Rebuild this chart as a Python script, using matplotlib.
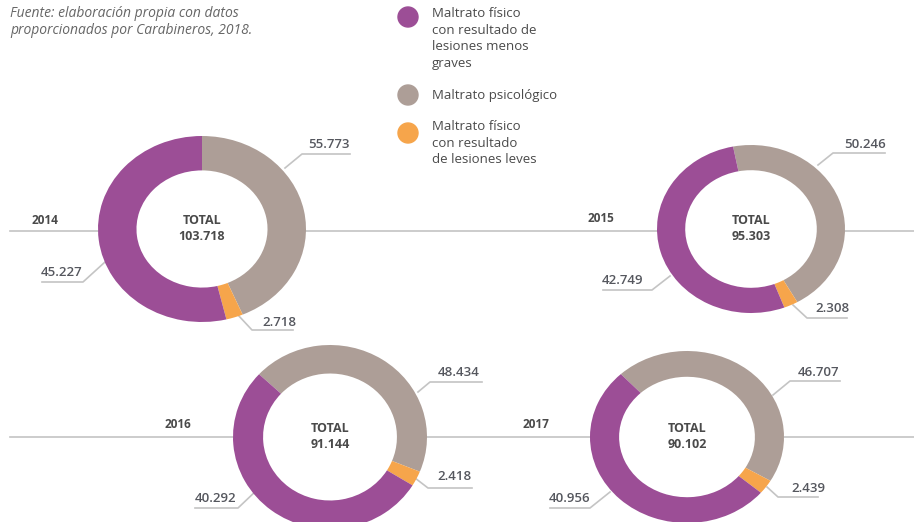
import matplotlib
matplotlib.use("Agg")
import matplotlib.pyplot as plt
from matplotlib.patches import Circle, Ellipse

plt.rcParams["font.family"] = ["Open Sans", "DejaVu Sans"]

# datos (Carabineros, 2018)
years = ["2014", "2015", "2016", "2017"]
fisico_graves = [45227, 42749, 40292, 40956]
psicologico = [55773, 50246, 48434, 46707]
fisico_leves = [2718, 2308, 2418, 2439]
totals = [103718, 95303, 91144, 90102]

legend_labels = [
    "Maltrato físico\ncon resultado de\nlesiones menos\ngraves",
    "Maltrato psicológico",
    "Maltrato físico\ncon resultado\nde lesiones leves",
]

PURPLE = "#9c4e96"
GRAY = "#ad9e97"
ORANGE = "#f6a54b"
TXT = "#4a4a4a"
NUM = "#55575e"
LINE = "#c4c4c4"

W, H = 914, 522

# layout in pixels: center x, center y, radius x, radius y, ring width, start angle
donuts = [
    (202, 229, 104, 93, 0.37, 90),
    (751, 229, 94, 84, 0.30, 101),
    (330, 437, 97, 92, 0.31, 137),
    (687, 437, 97, 86, 0.30, 133),
]

# label anchors: (ring point, elbow, underline end, text x, text y)
label_pos = [
    {"psi": ((285, 168), (302, 154), 350, 329, 145),
     "gra": ((105, 262), (83, 282), 42, 62, 273),
     "lev": ((238, 315), (252, 330), 293, 279, 322)},
    {"psi": ((818, 165), (833, 153), 885, 865, 145),
     "gra": ((670, 276), (652, 290), 603, 622, 281),
     "lev": ((793, 305), (807, 318), 847, 832, 309)},
    {"psi": ((418, 392), (430, 382), 482, 459, 373),
     "gra": ((257, 490), (238, 508), 195, 216, 498),
     "lev": ((415, 478), (428, 488), 472, 454, 477)},
    {"psi": ((773, 395), (790, 381), 840, 818, 373),
     "gra": ((610, 492), (590, 508), 550, 570, 498),
     "lev": ((767, 487), (778, 497), 818, 808, 489)},
]
year_pos = [(45, 221), (601, 219), (178, 425), (536, 425)]


def fmt(v):
    return f"{v:,}".replace(",", ".")


fig = plt.figure(figsize=(W / 100, H / 100), dpi=100)
bg = fig.add_axes([0, 0, 1, 1])
bg.set_xlim(0, W)
bg.set_ylim(H, 0)
bg.axis("off")

# horizontal guide lines
for y in (231, 437):
    bg.plot([10, W], [y, y], color=LINE, lw=1.2, zorder=1)

for i, (cx, cy, rx, ry, wd, start) in enumerate(donuts):
    ax = fig.add_axes([(cx - rx) / W, 1 - (cy + ry) / H, 2 * rx / W, 2 * ry / H])
    ax.patch.set_alpha(0)
    # the reference draws the gray arc with the size of the purple value
    # and the purple arc with the gray one; kept as drawn there
    ax.pie([fisico_graves[i], fisico_leves[i], psicologico[i]],
           colors=[GRAY, ORANGE, PURPLE], startangle=start, counterclock=False,
           radius=1, wedgeprops=dict(width=wd, edgecolor="none"))
    ax.add_patch(Circle((0, 0), 1 - wd, color="white", zorder=0))
    ax.set_aspect("auto")
    ax.set_xlim(-1, 1)
    ax.set_ylim(-1, 1)
    ax.axis("off")

    # center text goes on the donut axes so the white hole doesn't hide it
    ax.text(cx, cy - 8, "TOTAL", ha="center", va="center", fontsize=9,
            fontweight="bold", color=TXT, transform=bg.transData, clip_on=False)
    ax.text(cx, cy + 8, fmt(totals[i]), ha="center", va="center", fontsize=9,
            fontweight="bold", color=TXT, transform=bg.transData, clip_on=False)

    bg.text(year_pos[i][0], year_pos[i][1], years[i], ha="center", va="center",
            fontsize=8.5, fontweight="bold", color=TXT)

    vals = {"psi": psicologico[i], "gra": fisico_graves[i], "lev": fisico_leves[i]}
    for key, (p0, p1, xend, tx, ty) in label_pos[i].items():
        bg.plot([p0[0], p1[0], xend], [p0[1], p1[1], p1[1]], color=LINE, lw=1.2,
                zorder=2)
        bg.text(tx, ty, fmt(vals[key]), ha="center", va="center", fontsize=9.5,
                fontweight="semibold", color=NUM)

# source note
bg.text(10, 6, "Fuente: elaboración propia con datos\nproporcionados por Carabineros, 2018.",
        ha="left", va="top", fontsize=10, style="italic", color="#666666",
        linespacing=1.22)

# legend
leg_colors = [PURPLE, GRAY, ORANGE]
leg_y = [17, 95, 133]
leg_text_y = [7, 89, 120]
for c, y, ty, lab in zip(leg_colors, leg_y, leg_text_y, legend_labels):
    bg.add_patch(Ellipse((408, y), 20, 20, color=c))
    bg.text(432, ty, lab, ha="left", va="top", fontsize=9.5, color=TXT,
            linespacing=1.36)

fig.savefig("out.png", dpi=100)
